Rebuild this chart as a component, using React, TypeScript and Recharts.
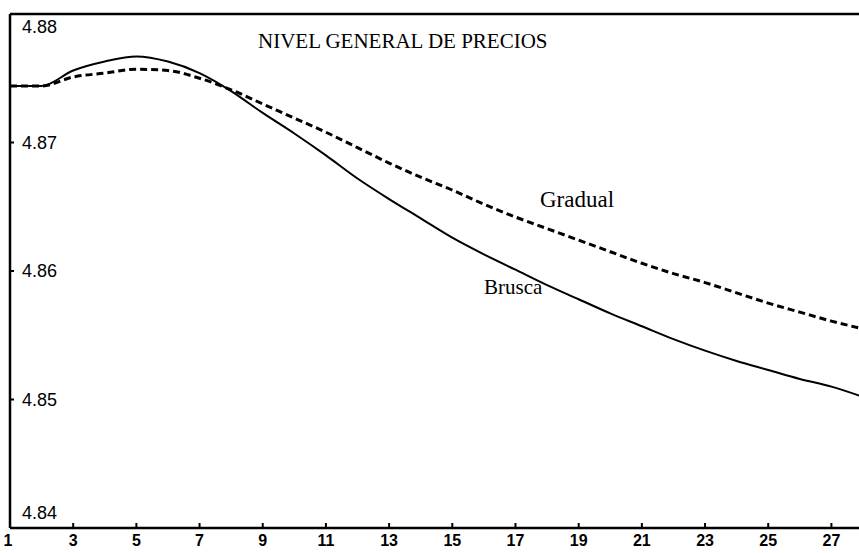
import React from "react";
import { LineChart, Line, XAxis, YAxis, ReferenceLine } from "recharts";

const periods = [1, 2, 3, 4, 5, 6, 7, 8, 9, 10, 11, 12, 13, 14, 15, 16, 17, 18, 19, 20, 21, 22, 23, 24, 25, 26, 27, 28];

const brusca = [
  4.8744, 4.8744, 4.8756, 4.8763, 4.8767, 4.8763, 4.8754, 4.8740, 4.8723, 4.8707,
  4.8690, 4.8672, 4.8656, 4.8641, 4.8626, 4.8613, 4.8601, 4.8589, 4.8578, 4.8567,
  4.8557, 4.8547, 4.8538, 4.8530, 4.8523, 4.8516, 4.8510, 4.8502,
];

const gradual = [
  4.8744, 4.8744, 4.8751, 4.8754, 4.8757, 4.8756, 4.8750, 4.8741, 4.8730, 4.8719,
  4.8708, 4.8696, 4.8684, 4.8673, 4.8663, 4.8652, 4.8642, 4.8633, 4.8624, 4.8615,
  4.8606, 4.8598, 4.8591, 4.8583, 4.8575, 4.8568, 4.8561, 4.8555,
];

const xTicks = [1, 3, 5, 7, 9, 11, 13, 15, 17, 19, 21, 23, 25, 27];
const yTicks = [4.84, 4.85, 4.86, 4.87, 4.88];

const data = periods.map((p, i) => ({ p, brusca: brusca[i], gradual: gradual[i] }));

const XTick = (props: any) => {
  const { x, y, payload } = props;
  return (
    <g>
      {payload.value !== 1 && <line x1={x} y1={y} x2={x} y2={y - 5} stroke="#000" strokeWidth={2} />}
      <text x={payload.value === 1 ? x - 2 : x} y={y + 18} textAnchor="middle" fontFamily="Liberation Sans, Arial, sans-serif" fontWeight="bold" fontSize={16} fill="#000">
        {payload.value}
      </text>
    </g>
  );
};

const YTick = (props: any) => {
  const { payload, y } = props;
  const x = 10;
  let dy = 6;
  if (payload.value === 4.88) dy = 19;
  if (payload.value === 4.84) dy = -9;
  return (
    <g>
      <line x1={x} y1={y} x2={x + 4} y2={y} stroke="#000" strokeWidth={2} />
      <text x={x + 12} y={y + dy} textAnchor="start" fontFamily="Liberation Sans, Arial, sans-serif" fontSize={18} fill="#000">
        {payload.value.toFixed(2)}
      </text>
    </g>
  );
};

const serif = "Liberation Serif, 'Times New Roman', serif";

export default function App() {
  return (
    <div style={{ position: "absolute", left: 0, top: 0, width: 859, height: 553, overflow: "hidden", background: "#fff" }}>
      <LineChart width={875} height={553} data={data} margin={{ top: 14, right: 12, bottom: 0, left: 9 }}>
        <XAxis
          dataKey="p"
          type="number"
          domain={[1, 28]}
          ticks={xTicks}
          interval={0}
          tickSize={0}
          tickMargin={0}
          height={25}
          tickLine={false}
          axisLine={{ stroke: "#000", strokeWidth: 2.5 }}
          tick={<XTick />}
        />
        <YAxis
          type="number"
          domain={[4.84, 4.88]}
          ticks={yTicks}
          interval={0}
          width={1}
          tickSize={0}
          tickMargin={0}
          tickLine={false}
          axisLine={{ stroke: "#000", strokeWidth: 2.5 }}
          tick={<YTick />}
        />
        <ReferenceLine y={4.88} stroke="#000" strokeWidth={2.5} />
        <Line type="monotone" dataKey="gradual" stroke="#000" strokeWidth={3} strokeDasharray="7 4" dot={false} isAnimationActive={false} />
        <Line type="monotone" dataKey="brusca" stroke="#000" strokeWidth={2} dot={false} isAnimationActive={false} />
      </LineChart>
      <div style={{ position: "absolute", left: 258, top: 29, fontFamily: serif, fontSize: 21, color: "#000", whiteSpace: "nowrap" }}>
        NIVEL GENERAL DE PRECIOS
      </div>
      <div style={{ position: "absolute", left: 540, top: 187, fontFamily: serif, fontSize: 23, color: "#000" }}>Gradual</div>
      <div style={{ position: "absolute", left: 484, top: 275, fontFamily: serif, fontSize: 21, color: "#000" }}>Brusca</div>
    </div>
  );
}
